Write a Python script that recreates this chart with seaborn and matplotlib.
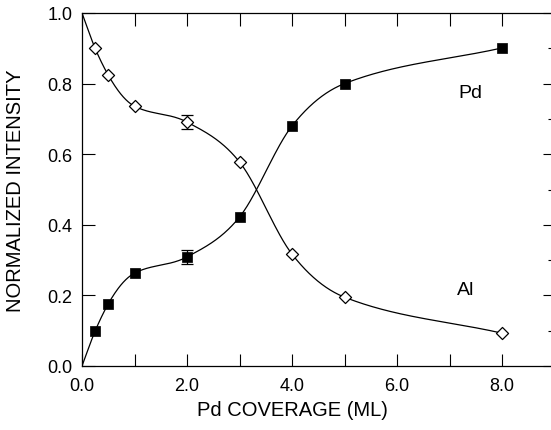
import numpy as np
import pandas as pd
import seaborn as sns
import matplotlib.pyplot as plt
from matplotlib.ticker import MultipleLocator, FormatStrFormatter

# data
coverage = [0.25, 0.5, 1.0, 2.0, 3.0, 4.0, 5.0, 8.0]
al_int = [0.900, 0.824, 0.736, 0.691, 0.578, 0.317, 0.195, 0.093]
pd_int = [0.099, 0.176, 0.263, 0.309, 0.422, 0.680, 0.800, 0.901]
err_cov = [2.0]
al_err = [0.02]
pd_err = [0.02]
# clean surface (0 ML) values, where the guide curves start
al_start = 1.0
pd_start = 0.0


def guide(x, y, xs):
    # smooth cubic guide line through the points:
    # central slopes where the curve bends gently, pchip slopes at sharp bends
    x = np.asarray(x, float)
    y = np.asarray(y, float)
    h = np.diff(x)
    delta = np.diff(y) / h
    n = len(x)
    d = np.zeros(n)
    d[0] = delta[0]
    d[-1] = delta[-1]
    for k in range(1, n - 1):
        a, b = delta[k - 1], delta[k]
        if a * b <= 0:
            continue
        ratio = max(abs(a), abs(b)) / min(abs(a), abs(b))
        if ratio < 3:
            d[k] = (h[k] * a + h[k - 1] * b) / (h[k - 1] + h[k])
        else:
            w1 = 2 * h[k] + h[k - 1]
            w2 = h[k] + 2 * h[k - 1]
            d[k] = (w1 + w2) / (w1 / a + w2 / b)
    for k in range(n - 1):
        al = d[k] / delta[k]
        be = d[k + 1] / delta[k]
        s = al * al + be * be
        if s > 9:
            tau = 3 / np.sqrt(s)
            d[k] = tau * al * delta[k]
            d[k + 1] = tau * be * delta[k]
    idx = np.clip(np.searchsorted(x, xs) - 1, 0, n - 2)
    t = (xs - x[idx]) / h[idx]
    h00 = 2 * t**3 - 3 * t**2 + 1
    h10 = t**3 - 2 * t**2 + t
    h01 = -2 * t**3 + 3 * t**2
    h11 = t**3 - t**2
    return (h00 * y[idx] + h10 * h[idx] * d[idx]
            + h01 * y[idx + 1] + h11 * h[idx] * d[idx + 1])


sns.set_theme(style='ticks')
plt.rcParams['font.family'] = ['Liberation Sans', 'DejaVu Sans']
plt.rcParams['text.color'] = 'black'
plt.rcParams['axes.labelcolor'] = 'black'

df = pd.DataFrame({'cov': coverage, 'Al': al_int, 'Pd': pd_int})
xs = np.linspace(0, max(coverage), 500)
al_curve = guide([0.0] + coverage, [al_start] + al_int, xs)
pd_curve = guide([0.0] + coverage, [pd_start] + pd_int, xs)
curves = pd.DataFrame({'cov': xs, 'Al': al_curve, 'Pd': pd_curve})

fig = plt.figure(figsize=(5.51, 4.31), dpi=100)
ax = fig.add_axes([82 / 551, 64 / 431, 472.5 / 551, 353 / 431])

sns.lineplot(data=curves, x='cov', y='Al', color='black', lw=0.9, ax=ax)
sns.lineplot(data=curves, x='cov', y='Pd', color='black', lw=0.9, ax=ax)

ax.errorbar(err_cov, [al_int[coverage.index(c)] for c in err_cov], yerr=al_err,
            fmt='none', ecolor='black', elinewidth=0.9, capsize=4, capthick=0.9)
ax.errorbar(err_cov, [pd_int[coverage.index(c)] for c in err_cov], yerr=pd_err,
            fmt='none', ecolor='black', elinewidth=0.9, capsize=4, capthick=0.9)

sns.scatterplot(data=df, x='cov', y='Al', marker='D', s=38, facecolor='white',
                edgecolor='black', linewidth=0.9, ax=ax, zorder=5)
sns.scatterplot(data=df, x='cov', y='Pd', marker='s', s=48, color='black',
                edgecolor='black', linewidth=0.5, ax=ax, zorder=5)

ax.text(7.39, 0.776, 'Pd', fontsize=14, ha='center', va='center')
ax.text(7.30, 0.218, 'Al', fontsize=14, ha='center', va='center')

ax.set_xlim(0, 9)
ax.set_ylim(0, 1.0)
ax.xaxis.set_major_locator(MultipleLocator(2))
ax.xaxis.set_minor_locator(MultipleLocator(1))
ax.yaxis.set_major_locator(MultipleLocator(0.2))
ax.yaxis.set_minor_locator(MultipleLocator(0.1))
ax.xaxis.set_major_formatter(FormatStrFormatter('%.1f'))
ax.yaxis.set_major_formatter(FormatStrFormatter('%.1f'))
ax.set_xticks([0, 2, 4, 6, 8])

ax.tick_params(which='both', direction='in', top=True, right=True,
               width=0.8, colors='black', labelsize=13)
ax.tick_params(which='major', length=9)
ax.tick_params(axis='x', which='minor', length=9)
ax.tick_params(axis='y', which='minor', length=5, left=False)
ax.tick_params(axis='x', pad=8)
ax.tick_params(axis='y', pad=7)

for s in ax.spines.values():
    s.set_linewidth(0.9)
    s.set_color('black')

ax.set_xlabel('Pd COVERAGE (ML)', fontsize=14.5)
ax.set_ylabel('NORMALIZED INTENSITY', fontsize=14.5)
ax.xaxis.set_label_coords(4.0 / 9, -0.095)
ax.yaxis.set_label_coords(-0.12, 0.5)

fig.savefig('out.png', dpi=100)
